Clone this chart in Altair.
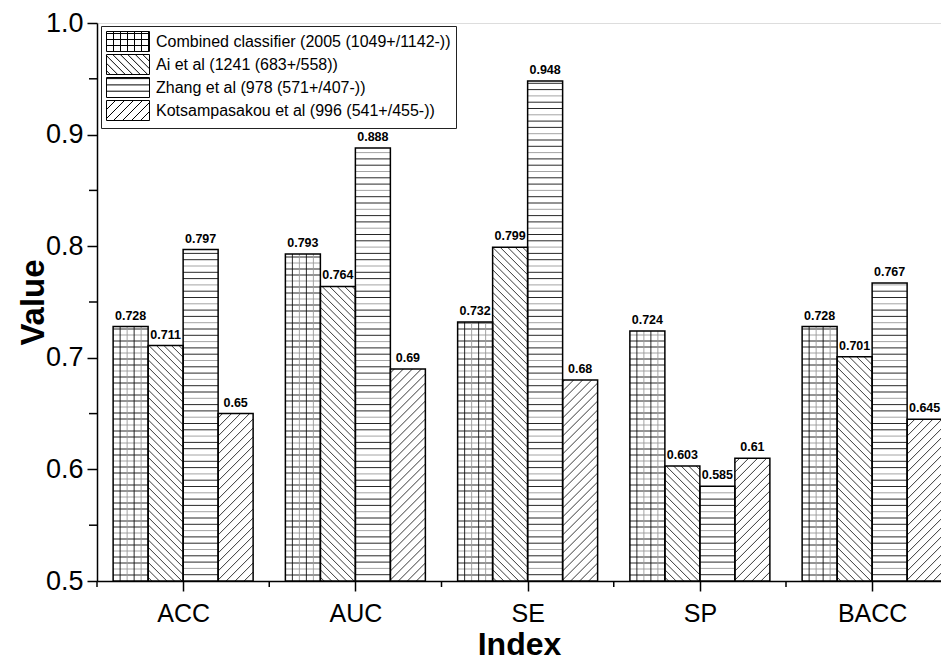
import json
import numpy as np
import pandas as pd
import altair as alt

# ---------------- data ----------------
categories = ["ACC", "AUC", "SE", "SP", "BACC"]
series = [
    "Combined classifier (2005 (1049+/1142-))",
    "Ai et al (1241 (683+/558))",
    "Zhang et al (978 (571+/407-))",
    "Kotsampasakou et al (996 (541+/455-))",
]
combined = [0.728, 0.793, 0.732, 0.724, 0.728]
ai = [0.711, 0.764, 0.799, 0.603, 0.701]
zhang = [0.797, 0.888, 0.948, 0.585, 0.767]
kots = [0.65, 0.69, 0.68, 0.61, 0.645]
patterns = ["grid", "back", "horiz", "fwd"]
y_ticks = [0.5, 0.6, 0.7, 0.8, 0.9, 1.0]
y_minor = [0.55, 0.65, 0.75, 0.85, 0.95]

# ---------------- layout ----------------
W, H = 844, 558
PX_PER_CAT = 172.25
XMAX = W / PX_PER_CAT
Y0, Y1 = 0.5, 1.0
KY = H / (Y1 - Y0)
BAR_PX = 35.0
BW = BAR_PX / PX_PER_CAT
FONT = "Liberation Sans"

values_by_series = [combined, ai, zhang, kots]

bar_rows = []
for s, (name, vals) in enumerate(zip(series, values_by_series)):
    for i, (cat, v) in enumerate(zip(categories, vals)):
        xc = i + 0.5 + (s - 1.5) * BW
        bar_rows.append(dict(series=name, cat=cat, value=v, xc=xc,
                             x0=xc - BW / 2, x1=xc + BW / 2, base=Y0,
                             pattern=patterns[s],
                             label=("%g" % v)))
bars = pd.DataFrame(bar_rows)


def hatch_segments(kind, wpx, hpx):
    """segments in local pixel coords (origin bottom-left, y up)"""
    segs = []
    if kind in ("horiz", "grid"):
        step = 6.3 if kind == "horiz" else 6.0
        k = 0
        for py in np.arange(step, hpx - 0.5, step):
            col = "#9a9a9a" if k % 3 == 1 else "#111111"
            segs.append((0, py, wpx, py, col))
            k += 1
    if kind == "grid":
        step = 7.0
        k = 0
        for px in np.arange(step, wpx - 0.5, step):
            col = "#9a9a9a" if k % 2 == 1 else "#111111"
            segs.append((px, 0, px, hpx, col))
            k += 1
    if kind == "fwd":
        step = 9.0
        for c in np.arange(-wpx, hpx, step):
            xa, xb = max(0.0, -c), min(wpx, hpx - c)
            if xb - xa > 0.3:
                segs.append((xa, xa + c, xb, xb + c, "#222222"))
    if kind == "back":
        step = 7.5
        for c in np.arange(step / 2, wpx + hpx, step):
            xa, xb = max(0.0, c - hpx), min(wpx, c)
            if xb - xa > 0.3:
                segs.append((xa, c - xa, xb, c - xb, "#222222"))
    return segs


hatch_rows = []
for _, r in bars.iterrows():
    hpx = (r["value"] - Y0) * KY
    for (ax, ay, bx, by, col) in hatch_segments(r["pattern"], BAR_PX, hpx):
        hatch_rows.append(dict(hx=r["x0"] + ax / PX_PER_CAT, hy=Y0 + ay / KY,
                               hx2=r["x0"] + bx / PX_PER_CAT, hy2=Y0 + by / KY,
                               col=col))
hatch = pd.DataFrame(hatch_rows)


def legend_path(kind):
    # unit: 10px; swatch drawn from x=-1..3.3, y=-1..1
    x0, x1, y0, y1 = -1.0, 3.3, -1.0, 1.0
    wpx, hpx = (x1 - x0) * 10, (y1 - y0) * 10
    p = "M%.2f,%.2fH%.2fV%.2fH%.2fZ" % (x0, y0, x1, y1, x0)
    for (ax, ay, bx, by, col) in hatch_segments(kind, wpx, hpx):
        p += "M%.2f,%.2fL%.2f,%.2f" % (x0 + ax / 10, y1 - ay / 10,
                                       x0 + bx / 10, y1 - by / 10)
    return p


legend_paths = [legend_path(k) for k in patterns]

xscale = alt.Scale(domain=[0, XMAX], nice=False, zero=False)
yscale = alt.Scale(domain=[Y0, Y1], nice=False, zero=False)

label_expr = "%s[floor(datum.value)]" % json.dumps(categories)

x_axis = alt.Axis(values=[i + 0.5 for i in range(len(categories))],
                  labelExpr=label_expr, title="Index", grid=False,
                  tickSize=10, tickWidth=1.5, tickColor="black",
                  domainColor="black", domainWidth=1.5,
                  labelFont=FONT, labelFontSize=25, labelColor="black",
                  labelPadding=10,
                  titleFont=FONT, titleFontSize=32, titleFontWeight="bold",
                  titleColor="black", titleBaseline="alphabetic", titleY=73)
y_axis = alt.Axis(values=y_ticks, format=".1f", title="Value", grid=False,
                  tickSize=10, tickWidth=1.5, tickColor="black",
                  domainColor="black", domainWidth=1.5,
                  labelFont=FONT, labelFontSize=27, labelColor="black",
                  labelPadding=4,
                  titleFont=FONT, titleFontSize=33, titleFontWeight="bold",
                  titleColor="black", titleBaseline="alphabetic", titleX=-54)

base_bars = alt.Chart(bars)

bg = base_bars.mark_rect(fill="white", stroke=None).encode(
    x=alt.X("x0:Q", scale=xscale, axis=x_axis),
    x2="x1:Q",
    y=alt.Y("base:Q", scale=yscale, axis=y_axis),
    y2="value:Q",
)

hatch_layer = alt.Chart(hatch).mark_rule(strokeWidth=0.9).encode(
    x=alt.X("hx:Q", scale=xscale),
    y=alt.Y("hy:Q", scale=yscale),
    x2="hx2:Q",
    y2="hy2:Q",
    color=alt.Color("col:N", scale=None),
)

outline = base_bars.mark_rect(fill="white", fillOpacity=0, stroke="black",
                              strokeWidth=1.5).encode(
    x=alt.X("x0:Q", scale=xscale),
    x2="x1:Q",
    y=alt.Y("base:Q", scale=yscale),
    y2="value:Q",
)

labels = base_bars.mark_text(font=FONT, fontSize=12.5, fontWeight="bold",
                             baseline="bottom", dy=-4, color="black").encode(
    x=alt.X("xc:Q", scale=xscale),
    y=alt.Y("value:Q", scale=yscale),
    text="label:N",
)

legend_pts = base_bars.mark_point(filled=False, opacity=0, color="black",
                                  strokeWidth=1, size=400).encode(
    x=alt.X("xc:Q", scale=xscale),
    y=alt.Y("value:Q", scale=yscale),
    shape=alt.Shape("series:N",
                    scale=alt.Scale(domain=series, range=legend_paths),
                    legend=alt.Legend(title=None, orient="none",
                                      legendX=4, legendY=3,
                                      strokeColor="#222222", fillColor="white",
                                      padding=5, rowPadding=-2,
                                      symbolSize=400, symbolOpacity=1,
                                      symbolStrokeWidth=1,
                                      symbolStrokeColor="black",
                                      labelFont=FONT, labelFontSize=16,
                                      labelColor="black", labelOffset=29,
                                      labelLimit=0)),
)

y_minor_df = pd.DataFrame({"yv": y_minor})
y_minor_ticks = alt.Chart(y_minor_df).mark_rule(color="black",
                                                strokeWidth=1.5).encode(
    y=alt.Y("yv:Q", scale=yscale),
    x=alt.value(-8), x2=alt.value(0),
)

x_minor_df = pd.DataFrame({"xv": [float(i) for i in range(len(categories))]})
x_minor_ticks = alt.Chart(x_minor_df).mark_rule(color="black",
                                                strokeWidth=1.5).encode(
    x=alt.X("xv:Q", scale=xscale),
    y=alt.value(H), y2=alt.value(H + 6),
)

chart = alt.layer(bg, hatch_layer, outline, labels, legend_pts,
                  y_minor_ticks, x_minor_ticks).properties(
    width=W, height=H,
    autosize=alt.AutoSizeParams(type="none"),
    padding={"left": 89, "top": 15, "right": 0, "bottom": 79},
).configure_view(stroke=None).configure(background="white")

chart.save("out.html", embed_options={"renderer": "svg", "actions": False})
